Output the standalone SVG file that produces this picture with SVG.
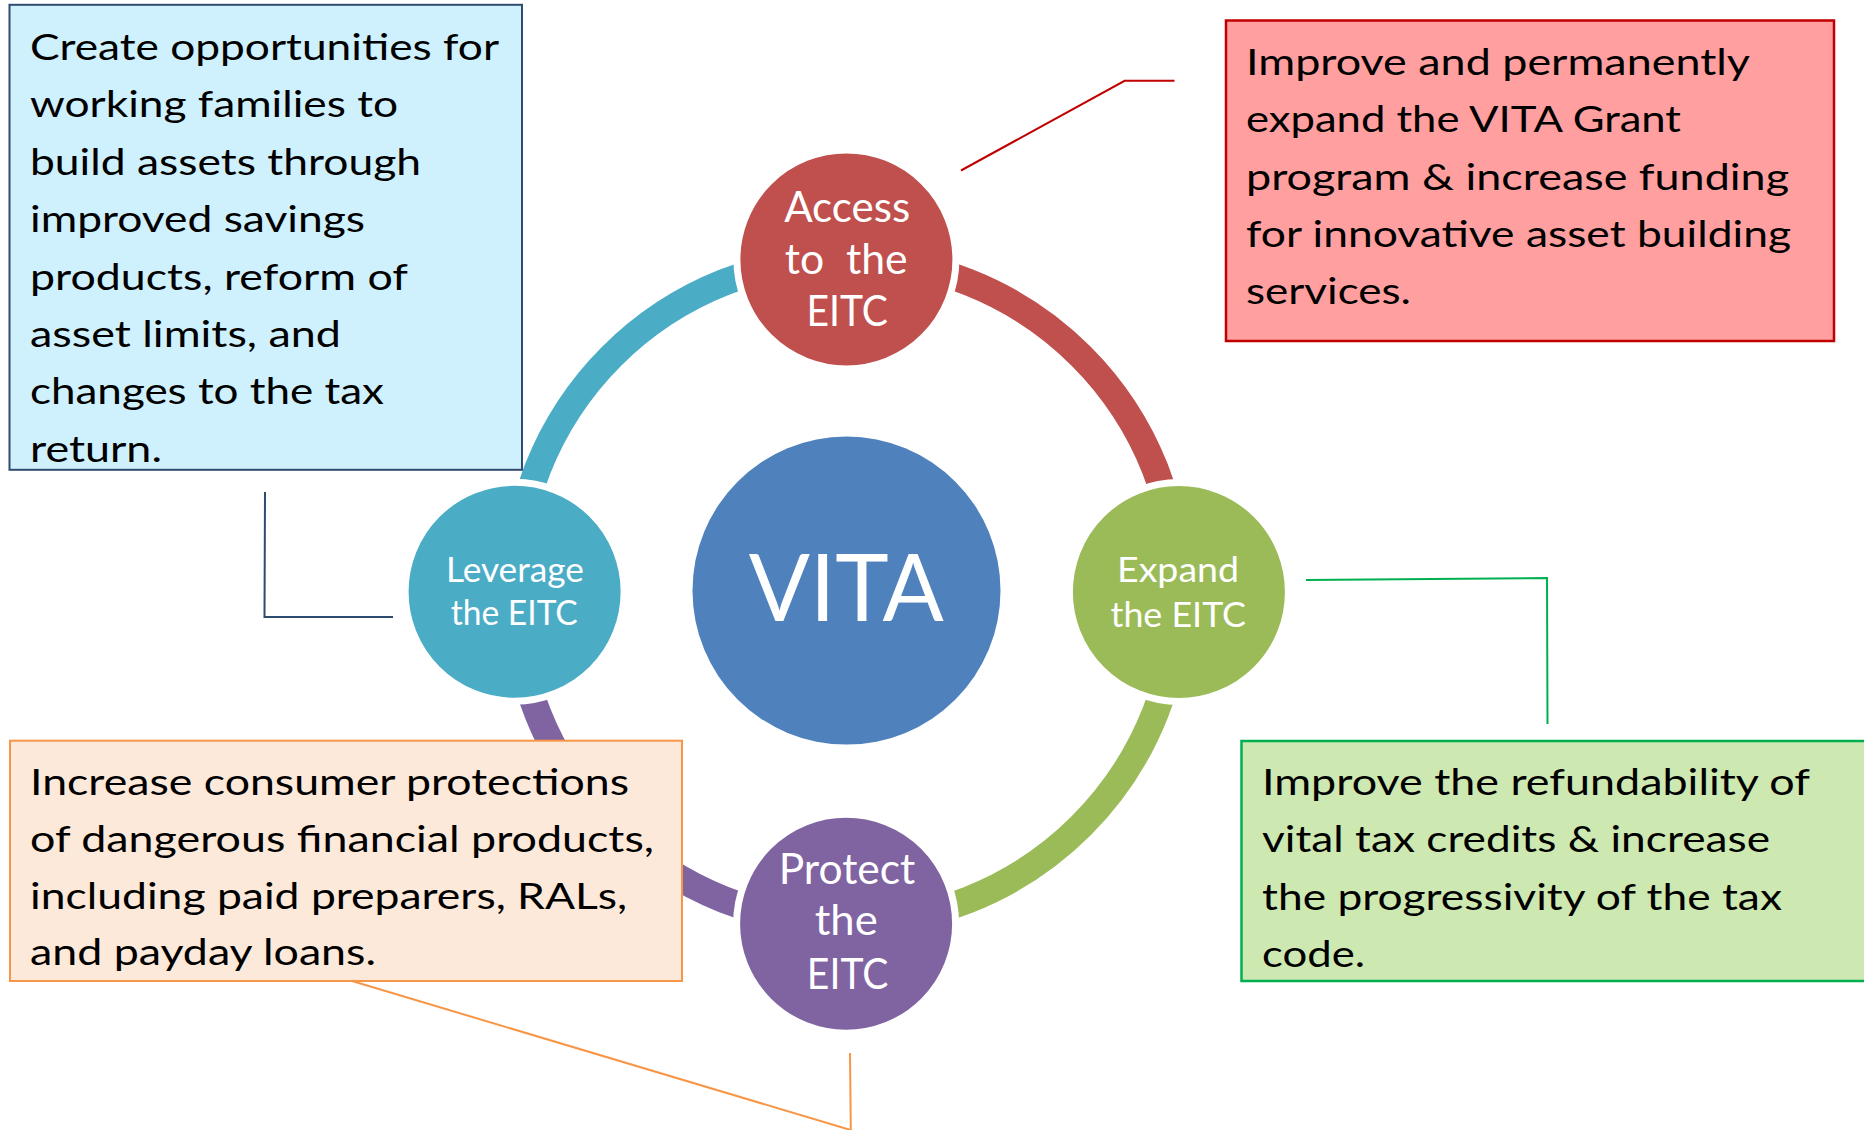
<svg xmlns="http://www.w3.org/2000/svg" width="1864" height="1130" viewBox="0 0 1864 1130">
<style>
.box{font-family:Lato,"Liberation Sans",sans-serif;font-size:37px;fill:#000}
.ct{font-family:Lato,"Liberation Sans",sans-serif;fill:#fff;text-anchor:middle}
.big{font-size:42px}
.mid{font-size:35px}
.arc{fill:none;stroke-width:27}
.node{stroke:#fff;stroke-width:7}
.conn{fill:none;stroke-width:2}
</style>
<rect width="1864" height="1130" fill="#fff"/>
<g id="ring">
<path class="arc" stroke="#C0504D" d="M846.4 259 A332 332 0 0 1 1178.4 591"/>
<path class="arc" stroke="#9BBB59" d="M1178.4 591 A332 332 0 0 1 846.4 923"/>
<path class="arc" stroke="#8064A2" d="M846.4 923 A332 332 0 0 1 514.4 591"/>
<path class="arc" stroke="#4BACC6" d="M514.4 591 A332 332 0 0 1 846.4 259"/>
</g>
<g id="vita">
<circle cx="846.5" cy="590.6" r="154" fill="#4F81BD"/>
<text class="ct" x="846.2" y="620.6" font-size="94" textLength="195" lengthAdjust="spacingAndGlyphs">VITA</text>
</g>
<g id="access">
<circle class="node" cx="846.4" cy="259.4" r="109.5" fill="#C0504D"/>
<text class="ct big" x="847.2" y="221.5" textLength="126" lengthAdjust="spacingAndGlyphs">Access</text>
<text class="ct big" x="846.2" y="274" xml:space="preserve" textLength="123" lengthAdjust="spacingAndGlyphs">to  the</text>
<text class="ct big" x="847.2" y="326" textLength="81.5" lengthAdjust="spacingAndGlyphs">EITC</text>
</g>
<g id="expand">
<circle class="node" cx="1178.9" cy="592" r="109.5" fill="#9BBB59"/>
<text class="ct mid" x="1178" y="581.6" textLength="122" lengthAdjust="spacingAndGlyphs">Expand</text>
<text class="ct mid" x="1178.3" y="626.6" textLength="135.5" lengthAdjust="spacingAndGlyphs">the EITC</text>
</g>
<g id="protect">
<circle class="node" cx="846.1" cy="923.7" r="109.5" fill="#8064A2"/>
<text class="ct big" x="847" y="884.4" textLength="136.7" lengthAdjust="spacingAndGlyphs">Protect</text>
<text class="ct big" x="846.2" y="935.4" textLength="63" lengthAdjust="spacingAndGlyphs">the</text>
<text class="ct big" x="847.6" y="989.3" textLength="81.5" lengthAdjust="spacingAndGlyphs">EITC</text>
</g>
<g id="leverage">
<circle class="node" cx="514.6" cy="591.8" r="109.5" fill="#4BACC6"/>
<text class="ct mid" x="514.9" y="581.6" textLength="138" lengthAdjust="spacingAndGlyphs">Leverage</text>
<text class="ct mid" x="514.3" y="624.8" textLength="127" lengthAdjust="spacingAndGlyphs">the EITC</text>
</g>
<g id="connectors">
<polyline class="conn" stroke="#C00000" points="961,170.5 1124.6,80.8 1174.5,80.8"/>
<polyline class="conn" stroke="#00B050" points="1306,580 1547,578 1547.5,724"/>
<line class="conn" stroke="#F79646" x1="352" y1="981" x2="850.5" y2="1130"/>
<line class="conn" stroke="#F79646" x1="850" y1="1053" x2="850.8" y2="1130"/>
<polyline class="conn" stroke="#2F4B70" stroke-width="2.5" points="265,492 264.5,617 393,617"/>
</g>
<g id="box-blue">
<rect x="9.5" y="4.8" width="512.5" height="465" fill="#CFF1FD" stroke="#2F4B70" stroke-width="2"/>
<text class="box" x="30" y="60" textLength="469" lengthAdjust="spacingAndGlyphs">Create opportunities for</text>
<text class="box" x="30" y="117.4" textLength="368" lengthAdjust="spacingAndGlyphs">working families to</text>
<text class="box" x="30" y="174.8" textLength="391" lengthAdjust="spacingAndGlyphs">build assets through</text>
<text class="box" x="30" y="232.2" textLength="335" lengthAdjust="spacingAndGlyphs">improved savings</text>
<text class="box" x="30" y="289.6" textLength="378" lengthAdjust="spacingAndGlyphs">products, reform of</text>
<text class="box" x="30" y="347" textLength="311" lengthAdjust="spacingAndGlyphs">asset limits, and</text>
<text class="box" x="30" y="404.4" textLength="354" lengthAdjust="spacingAndGlyphs">changes to the tax</text>
<text class="box" x="30" y="461.8" textLength="132" lengthAdjust="spacingAndGlyphs">return.</text>
</g>
<g id="box-red">
<rect x="1226" y="20.5" width="608" height="320.5" fill="#FF9F9F" stroke="#C00000" stroke-width="2.5"/>
<text class="box" x="1246" y="75" textLength="504" lengthAdjust="spacingAndGlyphs">Improve and permanently</text>
<text class="box" x="1246" y="132.3" textLength="435" lengthAdjust="spacingAndGlyphs">expand the VITA Grant</text>
<text class="box" x="1246" y="189.6" textLength="543" lengthAdjust="spacingAndGlyphs">program &amp; increase funding</text>
<text class="box" x="1246" y="246.9" textLength="545" lengthAdjust="spacingAndGlyphs">for innovative asset building</text>
<text class="box" x="1246" y="304.2" textLength="165" lengthAdjust="spacingAndGlyphs">services.</text>
</g>
<g id="box-green">
<rect x="1241.5" y="741" width="640" height="240" fill="#CDE8B0" stroke="#00B050" stroke-width="2.5"/>
<text class="box" x="1262" y="795" textLength="548" lengthAdjust="spacingAndGlyphs">Improve the refundability of</text>
<text class="box" x="1262" y="852.3" textLength="508" lengthAdjust="spacingAndGlyphs">vital tax credits &amp; increase</text>
<text class="box" x="1262" y="909.6" textLength="520" lengthAdjust="spacingAndGlyphs">the progressivity of the tax</text>
<text class="box" x="1262" y="966.9" textLength="103" lengthAdjust="spacingAndGlyphs">code.</text>
</g>
<g id="box-orange">
<rect x="10" y="740.7" width="672" height="240.3" fill="#FDE9D9" stroke="#F79646" stroke-width="2"/>
<text class="box" x="30" y="795" textLength="599" lengthAdjust="spacingAndGlyphs">Increase consumer protections</text>
<text class="box" x="30" y="852" textLength="624" lengthAdjust="spacingAndGlyphs">of dangerous financial products,</text>
<text class="box" x="30" y="908.6" textLength="597" lengthAdjust="spacingAndGlyphs">including paid preparers, RALs,</text>
<text class="box" x="30" y="965.4" textLength="346" lengthAdjust="spacingAndGlyphs">and payday loans.</text>
</g>
</svg>
